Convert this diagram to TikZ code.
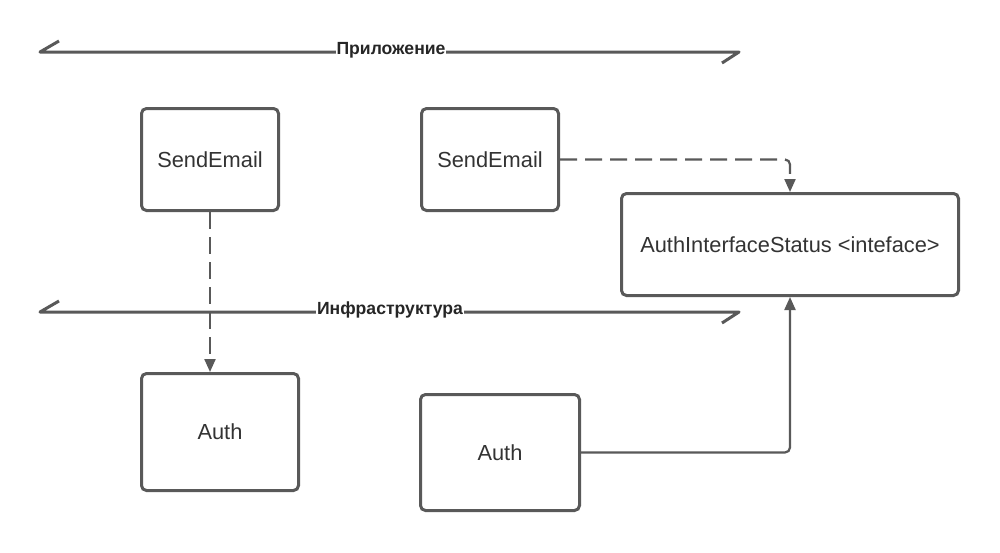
\documentclass[tikz,border=0pt]{standalone}
\usepackage{fontspec}
\setmainfont{Liberation Sans}
\usetikzlibrary{arrows.meta}
\definecolor{ln}{HTML}{595959}
\definecolor{tx}{HTML}{333333}
\begin{document}
\begin{tikzpicture}[x=1pt,y=-1pt,
  box/.style={draw=ln, line width=3pt, rounded corners=5pt, text=tx,
    font=\fontsize{21.8}{26}\selectfont, inner sep=0pt},
  conn/.style={draw=ln, line width=2.2pt, rounded corners=5pt,
    -{Triangle[length=13pt,width=11pt]}},
  dsh/.style={dash pattern=on 17pt off 8pt},
  sep/.style={draw=ln, line width=3pt, line join=round},
  lbl/.style={fill=white, text=black!85, font=\bfseries\fontsize{17.6}{20}\selectfont, inner sep=1pt}]
\useasboundingbox[fill=white] (0,0) rectangle (1000,552);

% separators
\coordinate (t1a) at (59,41);
\coordinate (t1b) at (40,52);
\coordinate (t1c) at (739,52);
\coordinate (t1d) at (722,63);
\draw[sep] (t1a) -- (t1b) -- (t1c) -- (t1d);
\node[lbl] (app) at (391,50) {Приложение};

\coordinate (t2a) at (59,301);
\coordinate (t2b) at (40,312);
\coordinate (t2c) at (739,312);
\coordinate (t2d) at (722,323);
\draw[sep] (t2a) -- (t2b) -- (t2c) -- (t2d);
\node[lbl] (inf) at (390,310) {Инфраструктура};

% boxes
\node[box, minimum width=137pt, minimum height=102pt] (se1) at (210,159.5) {SendEmail};
\node[box, minimum width=137pt, minimum height=102pt] (se2) at (490,159.5) {SendEmail};
\node[box, minimum width=337pt, minimum height=102pt] (ais) at (790,244.5) {AuthInterfaceStatus <inteface>};
\node[box, minimum width=157pt, minimum height=117pt] (a1) at (220,432) {Auth};
\node[box, minimum width=159pt, minimum height=116pt] (a2) at (500,452.5) {Auth};

% connectors
\draw[conn, dsh] (se1.south) -- (se1.south |- a1.north);
\draw[conn, dsh] (se2.east) -| (ais.north);
\draw[conn] (a2.east) -| (ais.south);
\end{tikzpicture}
\end{document}
